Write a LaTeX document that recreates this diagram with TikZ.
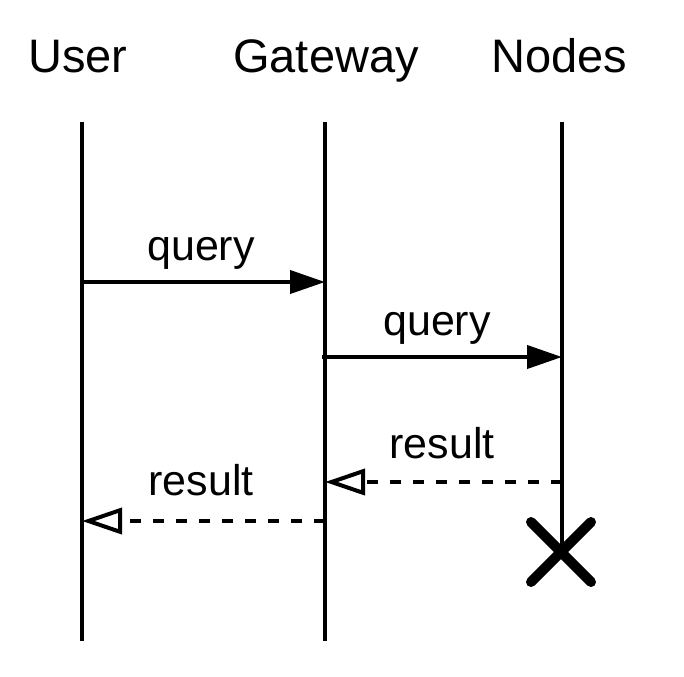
\documentclass[tikz,border=0pt]{standalone}
\usepackage{fontspec}
\setmainfont{Liberation Sans}
\usetikzlibrary{arrows.meta, shapes.misc}

\begin{document}
\begin{tikzpicture}[x=0.5pt, y=-0.5pt,
    lifeline/.style={line width=2pt},
    msg/.style={line width=2pt, -{Triangle[length=17.5pt, width=11.5pt]}},
    reply/.style={line width=2pt, dash pattern=on 5.5pt off 6pt, -{Triangle[open, length=20pt, width=13pt]}},
    head/.style={anchor=base, inner sep=0pt, font=\fontsize{23.5}{28}\selectfont},
    lbl/.style={anchor=base, inner sep=0pt, font=\fontsize{21.5}{26}\selectfont}]
  \useasboundingbox (0,0) rectangle (684,676);

  % Participants
  \node[head] (user) at (78, 72) {User};
  \node[head] (gateway) at (326, 72) {Gateway};
  \node[head] (nodes) at (559, 72) {Nodes};

  % Lifelines
  \coordinate (usertop) at (82, 122);
  \coordinate (userbot) at (82, 641);
  \coordinate (gwtop) at (325, 122);
  \coordinate (gwbot) at (325, 641);
  \coordinate (nodestop) at (562, 122);
  \node[cross out, draw, line width=5pt, line cap=round, minimum size=30pt, inner sep=0pt, outer sep=0pt] (kill) at (561, 552) {};
  \draw[lifeline] (usertop) -- (userbot);
  \draw[lifeline] (gwtop) -- (gwbot);
  \draw[lifeline] (nodestop) -- (nodestop |- kill.center);

  % Requests
  \coordinate (q1) at (0, 282);
  \coordinate (q2) at (0, 357);
  \draw[msg] (usertop |- q1) -- (gwtop |- q1);
  \node[lbl] (query1) at (201, 260) {query};
  \draw[msg] ([xshift=-1.5pt]gwtop |- q2) -- (nodestop |- q2);
  \node[lbl] (query2) at (437, 335) {query};

  % Replies
  \coordinate (r1) at (0, 482);
  \coordinate (r2) at (0, 521);
  \draw[reply] (nodestop |- r1) -- (gwtop |- r1);
  \node[lbl] (result1) at (442, 458) {result};
  \draw[reply] (gwtop |- r2) -- (usertop |- r2);
  \node[lbl] (result2) at (201, 495) {result};
\end{tikzpicture}
\end{document}
